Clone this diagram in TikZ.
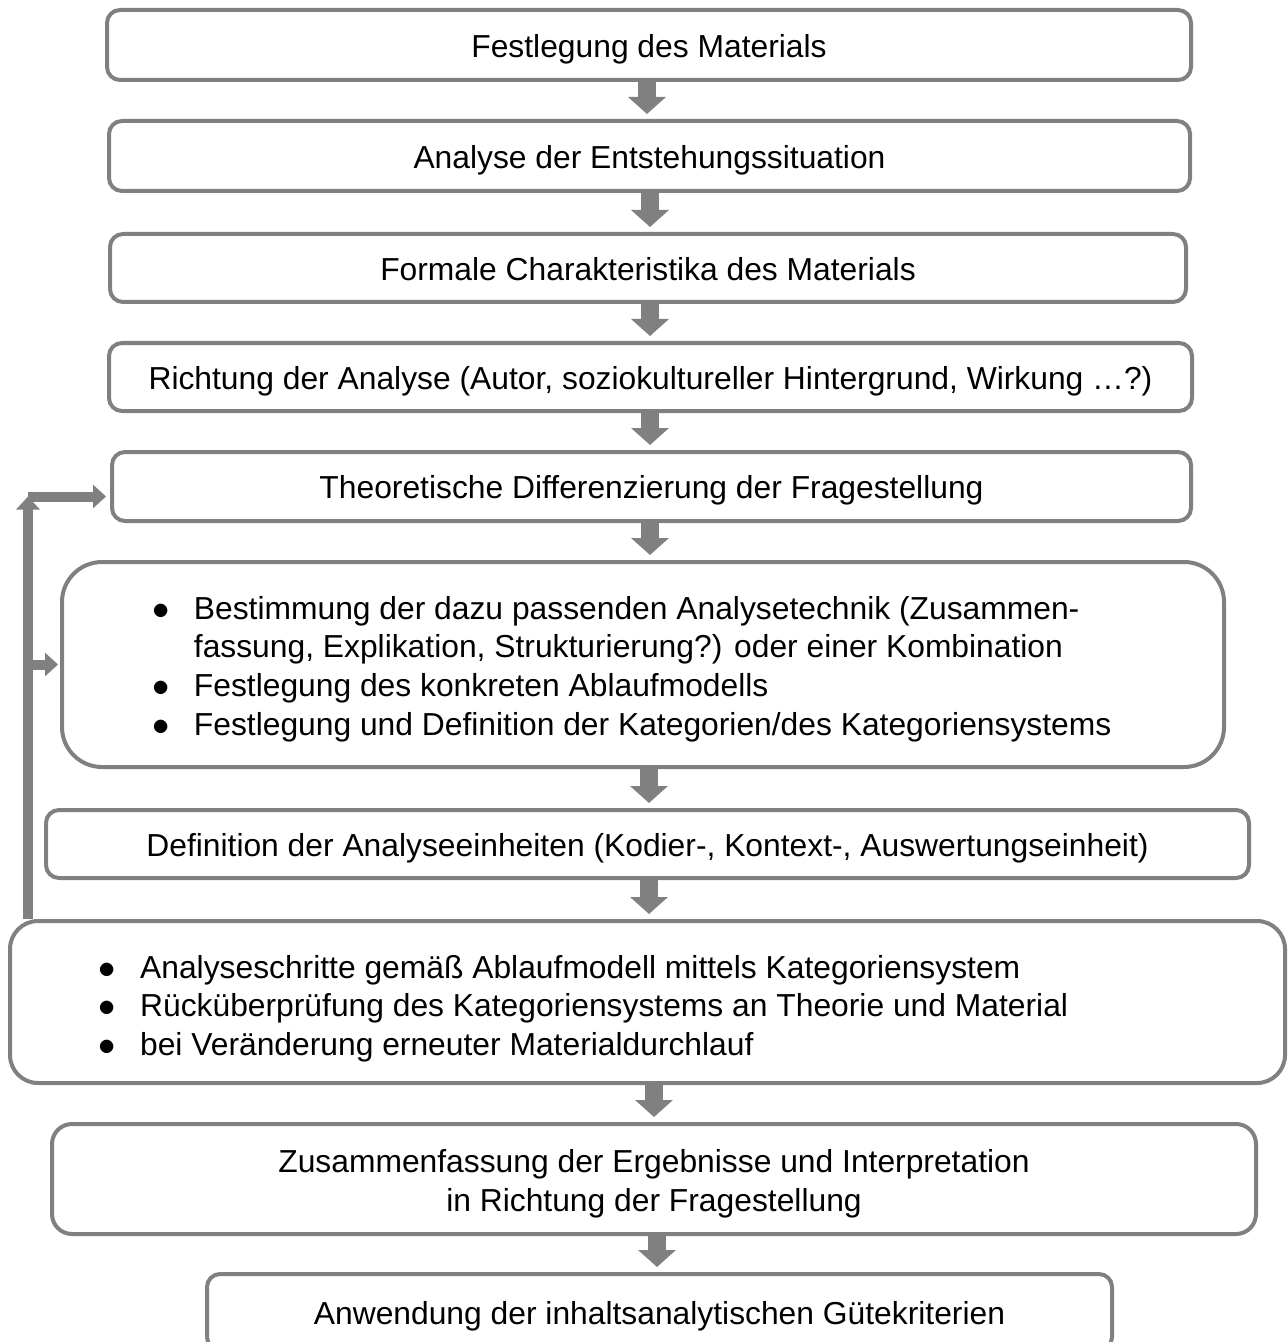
\documentclass[tikz,border=0pt]{standalone}
\usepackage{fontspec}
\setmainfont{Liberation Sans}
\usetikzlibrary{arrows.meta,positioning,calc}
\definecolor{linegray}{RGB}{128,128,128}
\newcommand{\boxfont}{\fontsize{15.9}{19.3}\selectfont}

\begin{document}
\begin{tikzpicture}[x=0.5pt,y=-0.5pt,
		box/.style={draw=linegray,line width=2pt,rounded corners=6.5pt,inner sep=0pt,font=\boxfont,
			text height=12.4pt,text depth=0pt},
		list/.style={inner sep=0pt,font=\boxfont},
		flow/.style={draw=linegray,line width=9pt,-{Triangle[width=18.5pt,length=8.5pt]},shorten >=2.5pt},
		back/.style={draw=linegray,line width=5pt,-{Triangle[width=11.5pt,length=6.5pt]}}]
		\useasboundingbox (0,0) rectangle (1288,1342);
		
		% simple one-line steps
		\foreach \mynode/\myx/\myy/\myw/\myh/\mytext in {
			b1/649/45/542/35/{Festlegung des Materials},
			b2/649.5/156/540.5/35/{Analyse der Entstehungssituation},
			b3/648/268/538/34/{Formale Charakteristika des Materials},
			b4/650.5/377/541.5/34/{Richtung der Analyse (Autor, soziokultureller Hintergrund, Wirkung …?)},
			b5/651.5/486.5/539.5/34.5/{Theoretische Differenzierung der Fragestellung},
			b7/647.5/844/601.5/34/{Definition der Analyseeinheiten (Kodier-, Kontext-, Auswertungseinheit)},
			b10/659.5/1312/452.5/38/{Anwendung der inhaltsanalytischen Gütekriterien}} {
			\node[box,minimum width=\myw pt,minimum height=\myh pt] (\mynode) at (\myx,\myy) {\mytext};
		}
		
		% the larger steps
		\node[box,rounded corners=20pt,minimum width=581pt,minimum height=102.5pt] (b6) at (643,664.5) {};
		\node[box,rounded corners=14pt,minimum width=637.5pt,minimum height=81pt] (b8) at (647.5,1002) {};
		\node[box,rounded corners=10pt,minimum width=602pt,minimum height=55pt] (b9) at (654,1179) {};
		
		% texts of the larger steps
		\node[list] (t6) at ([xshift=-5.5pt,yshift=-2.5pt]b6.center) {\begin{tabular}{@{}l@{\hspace{12pt}}l@{}}
				$\bullet$ & Bestimmung der dazu passenden Analysetechnik (Zusammen-\\
				& fassung, Explikation, Strukturierung?) oder einer Kombination\\
				$\bullet$ & Festlegung des konkreten Ablaufmodells\\
				$\bullet$ & Festlegung und Definition der Kategorien/des Kategoriensystems
			\end{tabular}};
		\node[list] (t8) at ([xshift=-32pt,yshift=-3.5pt]b8.center) {\begin{tabular}{@{}l@{\hspace{12pt}}l@{}}
				$\bullet$ & Analyseschritte gemäß Ablaufmodell mittels Kategoriensystem\\
				$\bullet$ & Rücküberprüfung des Kategoriensystems an Theorie und Material\\
				$\bullet$ & bei Veränderung erneuter Materialdurchlauf
			\end{tabular}};
		\node[list,align=center] (t9) at ([yshift=-2.5pt]b9.center)
			{Zusammenfassung der Ergebnisse und Interpretation\\in Richtung der Fragestellung};
		
		% downward arrows between the steps
		\foreach \a/\b/\ax in {b1/b2/647,b2/b3/650,b3/b4/650,b4/b5/650,b5/b6/650,
			b6/b7/649,b7/b8/649,b8/b9/654,b9/b10/657} {
			\coordinate (ax) at (\ax,0);
			\draw[flow] (\a.south -| ax) -- (\b.north -| ax);
		}
		
		% feedback loop on the left
		\coordinate (fbx) at (28,0);
		\coordinate (fbtop) at ([yshift=-5pt]b5.west);
		\draw[back] (b8.north -| fbx) -- (fbx |- fbtop);
		\draw[back,shorten >=2pt] (fbx |- fbtop) -- (fbtop);
		\draw[back,shorten >=1pt] (fbx |- b6.west) -- (b6.west);
\end{tikzpicture}
\end{document}
